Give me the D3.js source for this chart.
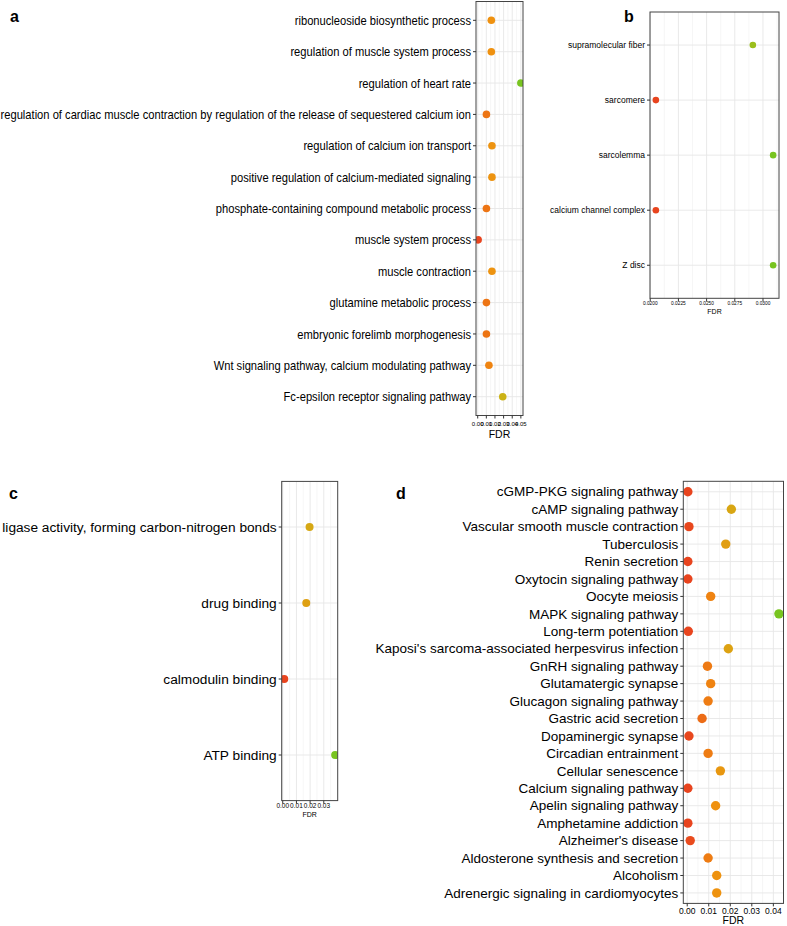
<!DOCTYPE html>
<html>
<head>
<meta charset="utf-8">
<style>
body { margin: 0; background: #fff; }
svg text { font-family: 'Liberation Sans', Arial, sans-serif; fill: #000; }
</style>
</head>
<body>
<svg id="fig" width="787" height="926"></svg>
<script src="https://d3js.org/d3.v7.min.js"></script>
<script>
// a - GO biological process
var bpTerms = ["ribonucleoside biosynthetic process", "regulation of muscle system process",
  "regulation of heart rate",
  "regulation of cardiac muscle contraction by regulation of the release of sequestered calcium ion",
  "regulation of calcium ion transport", "positive regulation of calcium-mediated signaling",
  "phosphate-containing compound metabolic process", "muscle system process", "muscle contraction",
  "glutamine metabolic process", "embryonic forelimb morphogenesis",
  "Wnt signaling pathway, calcium modulating pathway", "Fc-epsilon receptor signaling pathway"];
var bpFDR = [0.0158, 0.0158, 0.0500, 0.0101, 0.0165, 0.0165, 0.0101, 0.0005, 0.0165, 0.0101, 0.0101, 0.0130, 0.0290];
var bpTicks = [0, 0.01, 0.02, 0.03, 0.04, 0.05];
var bpTickLabels = ["0.00", "0.01", "0.02", "0.03", "0.04", "0.05"];

// b - GO cellular component
var ccTerms = ["supramolecular fiber", "sarcomere", "sarcolemma", "calcium channel complex", "Z disc"];
var ccFDR = [0.0291, 0.0205, 0.0309, 0.0205, 0.0309];
var ccTicks = [0.02, 0.0225, 0.025, 0.0275, 0.03];
var ccTickLabels = ["0.0200", "0.0225", "0.0250", "0.0275", "0.0300"];

// c - GO molecular function
var mfTerms = ["ligase activity, forming carbon-nitrogen bonds", "drug binding", "calmodulin binding", "ATP binding"];
var mfFDR = [0.0196, 0.0172, 0.0011, 0.0383];
var mfTicks = [0, 0.01, 0.02, 0.03];
var mfTickLabels = ["0.00", "0.01", "0.02", "0.03"];

// d - KEGG pathways
var keggTerms = ["cGMP-PKG signaling pathway", "cAMP signaling pathway", "Vascular smooth muscle contraction",
  "Tuberculosis", "Renin secretion", "Oxytocin signaling pathway", "Oocyte meiosis", "MAPK signaling pathway",
  "Long-term potentiation", "Kaposi's sarcoma-associated herpesvirus infection", "GnRH signaling pathway",
  "Glutamatergic synapse", "Glucagon signaling pathway", "Gastric acid secretion", "Dopaminergic synapse",
  "Circadian entrainment", "Cellular senescence", "Calcium signaling pathway", "Apelin signaling pathway",
  "Amphetamine addiction", "Alzheimer's disease", "Aldosterone synthesis and secretion", "Alcoholism",
  "Adrenergic signaling in cardiomyocytes"];
var keggFDR = [0.0003, 0.0205, 0.0008, 0.0179, 0.0003, 0.0003, 0.0109, 0.0426, 0.0005, 0.0191, 0.0094, 0.0109,
  0.0097, 0.0069, 0.0008, 0.0097, 0.0154, 0.0003, 0.0132, 0.0003, 0.0014, 0.0097, 0.0137, 0.0137];
var keggTicks = [0, 0.01, 0.02, 0.03, 0.04];
var keggTickLabels = ["0.00", "0.01", "0.02", "0.03", "0.04"];

// red -> orange -> olive -> green, like the original gradient
var gradStops = [0, 0.3, 0.6, 1];
var gradColors = ["#e8441e", "#f0900f", "#c8b516", "#78c420"];

var svg = d3.select("#fig");

function drawPanel(id, terms, fdr, ticks, tickLabels, o) {
  var g = svg.append("g");
  var lo = d3.min(fdr), hi = d3.max(fdr), pad = (hi - lo) * 0.05;
  var x = d3.scaleLinear().domain([lo - pad, hi + pad]).range([o.left, o.right]);
  var y = d3.scalePoint().domain(terms).range([o.top, o.bottom]).padding(0.6);
  var color = d3.scaleLinear()
    .domain(gradStops.map(s => lo + s * (hi - lo)))
    .range(gradColors);

  // minor breaks halfway between the majors
  var step = ticks[1] - ticks[0], minors = [];
  for (var m = ticks[0] - step / 2; m <= hi + pad; m += step) {
    if (m >= lo - pad) minors.push(m);
  }

  g.selectAll(".minor").data(minors).enter().append("line")
    .attr("x1", d => x(d)).attr("x2", d => x(d))
    .attr("y1", o.top).attr("y2", o.bottom)
    .attr("stroke", "#f0f0f0").attr("stroke-width", 0.6);
  g.selectAll(".major").data(ticks).enter().append("line")
    .attr("x1", d => x(d)).attr("x2", d => x(d))
    .attr("y1", o.top).attr("y2", o.bottom)
    .attr("stroke", "#e6e6e6").attr("stroke-width", 0.9);
  g.selectAll(".hgrid").data(terms).enter().append("line")
    .attr("x1", o.left).attr("x2", o.right)
    .attr("y1", d => y(d)).attr("y2", d => y(d))
    .attr("stroke", "#e6e6e6").attr("stroke-width", 0.9);

  g.append("clipPath").attr("id", "clip-" + id)
    .append("rect").attr("x", o.left).attr("y", o.top)
    .attr("width", o.right - o.left).attr("height", o.bottom - o.top);

  g.append("g").attr("clip-path", "url(#clip-" + id + ")")
    .selectAll("circle").data(terms).enter().append("circle")
    .attr("cx", (d, i) => x(fdr[i]))
    .attr("cy", d => y(d))
    .attr("r", o.r)
    .attr("fill", (d, i) => color(fdr[i]));

  g.append("rect").attr("x", o.left).attr("y", o.top)
    .attr("width", o.right - o.left).attr("height", o.bottom - o.top)
    .attr("fill", "none").attr("stroke", "#444").attr("stroke-width", 1);

  // y axis ticks + labels
  g.selectAll(".yt").data(terms).enter().append("line")
    .attr("x1", o.left - 3).attr("x2", o.left)
    .attr("y1", d => y(d)).attr("y2", d => y(d))
    .attr("stroke", "#333");
  g.selectAll(".yl").data(terms).enter().append("text")
    .attr("transform", d => "translate(" + (o.left - 5) + "," + y(d) + ") scale(" + o.sx + ",1)")
    .attr("dy", "0.35em")
    .attr("text-anchor", "end")
    .style("font-size", o.labelSize + "px")
    .text(d => d);

  // x axis ticks + labels
  g.selectAll(".xt").data(ticks).enter().append("line")
    .attr("x1", d => x(d)).attr("x2", d => x(d))
    .attr("y1", o.bottom).attr("y2", o.bottom + 3)
    .attr("stroke", "#333");
  g.selectAll(".xl").data(ticks).enter().append("text")
    .attr("x", d => x(d)).attr("y", o.tickBase)
    .attr("text-anchor", "middle")
    .style("font-size", o.tickSize + "px")
    .text((d, i) => tickLabels[i]);
  g.append("text")
    .attr("x", (o.left + o.right) / 2).attr("y", o.titleBase)
    .attr("text-anchor", "middle")
    .style("font-size", o.titleSize + "px")
    .text("FDR");

  g.append("text")
    .attr("x", o.tagX).attr("y", o.tagY)
    .style("font-size", "16px").style("font-weight", "bold")
    .text(id);
}

drawPanel("a", bpTerms, bpFDR, bpTicks, bpTickLabels,
  {left: 476, right: 523, top: 1.5, bottom: 415.5, r: 3.8, sx: 0.86, labelSize: 13,
   tickSize: 6, tickBase: 426, titleSize: 10.5, titleBase: 438, tagX: 10, tagY: 22});
drawPanel("b", ccTerms, ccFDR, ccTicks, ccTickLabels,
  {left: 650, right: 779, top: 12, bottom: 298.3, r: 3.3, sx: 1, labelSize: 8.5,
   tickSize: 4.8, tickBase: 304.5, titleSize: 7, titleBase: 314, tagX: 624, tagY: 22});
drawPanel("c", mfTerms, mfFDR, mfTicks, mfTickLabels,
  {left: 281.7, right: 337.7, top: 481.4, bottom: 800.6, r: 4, sx: 1, labelSize: 13.7,
   tickSize: 6.5, tickBase: 807.5, titleSize: 7, titleBase: 817, tagX: 9, tagY: 499});
drawPanel("d", keggTerms, keggFDR, keggTicks, keggTickLabels,
  {left: 683.3, right: 783.5, top: 481.3, bottom: 903.4, r: 4.7, sx: 1, labelSize: 13.5,
   tickSize: 8.5, tickBase: 914, titleSize: 10.5, titleBase: 924, tagX: 396, tagY: 499});
</script>
</body>
</html>
